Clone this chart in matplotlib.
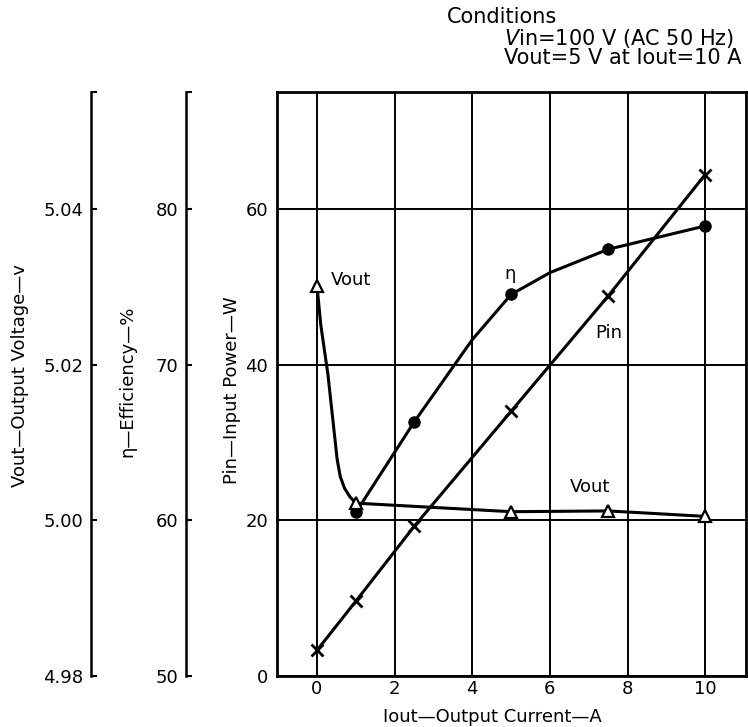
import matplotlib
matplotlib.use('Agg')
from matplotlib import pyplot as plt

plt.rcParams['font.family'] = ['DejaVu Sans']

# measured points
iout_a = [0, 1, 2.5, 5, 7.5, 10]
pin_w = [3.3, 9.6, 19.2, 34.0, 48.8, 64.4]

eff_x = [1, 2.5, 5, 7.5, 10]
eff_pct = [60.5, 66.3, 74.5, 77.4, 78.9]

vout_x = [0, 1, 5, 7.5, 10]
vout_v = [5.0301, 5.0022, 5.0011, 5.0012, 5.0005]

# curve shapes
eff_curve_x = [1, 2.5, 4, 5, 6, 7.5, 10]
eff_curve = [60.5, 66.3, 71.6, 74.5, 75.9, 77.4, 78.9]

vout_curve_x = [0, 0.1, 0.28, 0.45, 0.52, 0.6, 0.71, 0.85, 1, 5, 7.5, 10]
vout_curve = [5.0301, 5.0250, 5.0188, 5.0110, 5.0078, 5.0056, 5.0041,
              5.0030, 5.0022, 5.0011, 5.0012, 5.0005]

W, H = 748, 727
fig = plt.figure(figsize=(W / 100, H / 100), dpi=100)
ax = fig.add_axes([277 / W, (H - 676) / H, (746 - 277) / W, (676 - 92) / H])

ax.set_xlim(-1.03, 11.05)
ax.set_ylim(0, 75)
ax.set_xticks([0, 2, 4, 6, 8, 10])
ax.set_yticks([0, 20, 40, 60])
ax.grid(True, color='black', linewidth=1.4)
ax.tick_params(length=0, labelsize=13)
ax.tick_params(axis='y', pad=6.5)
ax.tick_params(axis='x', pad=3)
for s in ax.spines.values():
    s.set_linewidth(2)
ax.set_xlabel('Iout—Output Current—A', fontsize=13)
ax.xaxis.set_label_coords(0.46, -0.055)
ax.set_ylabel('Pin—Input Power—W', fontsize=13)
ax.yaxis.set_label_coords(-0.077, 0.49)

# extra left axes for efficiency and output voltage
def side_axis(px_out, lim, ticks, labels, label, label_x, label_y):
    a = ax.twinx()
    for name in ['right', 'top', 'bottom']:
        a.spines[name].set_visible(False)
    a.spines['left'].set_visible(True)
    a.spines['left'].set_position(('outward', px_out * 72 / 100))
    a.spines['left'].set_linewidth(1.8)
    a.yaxis.set_ticks_position('left')
    a.yaxis.set_label_position('left')
    a.set_ylim(*lim)
    a.set_yticks(ticks)
    a.set_yticklabels(labels)
    a.tick_params(axis='y', direction='in', length=4, width=1.5, pad=5.5, labelsize=13)
    a.set_ylabel(label, fontsize=13)
    a.yaxis.set_label_coords(label_x, label_y)
    return a

ax_eff = side_axis(91, (50, 87.5), [50, 60, 70, 80, 87.5],
                   ['50', '60', '70', '80', ''], 'η—Efficiency—%', -0.30, 0.505)
ax_v = side_axis(186, (4.98, 5.055), [4.98, 5.00, 5.02, 5.04, 5.055],
                 ['4.98', '5.00', '5.02', '5.04', ''], 'Vout—Output Voltage—v', -0.529, 0.515)

# Pin
ax.plot(iout_a, pin_w, color='black', linewidth=2.2, marker='x',
        markersize=9, markeredgewidth=2, zorder=3)

# efficiency
ax_eff.plot(eff_curve_x, eff_curve, color='black', linewidth=2.2)
ax_eff.plot(eff_x, eff_pct, linestyle='none', marker='o', color='black', markersize=8)

# output voltage
ax_v.plot(vout_curve_x, vout_curve, color='black', linewidth=2.2)
ax_v.plot(vout_x, vout_v, linestyle='none', marker='^', markersize=9,
          markerfacecolor='white', markeredgecolor='black', markeredgewidth=1.6)

# curve labels
ax.text(0.36, 50.9, 'Vout', fontsize=13, ha='left', va='center')
ax.text(4.97, 51.6, 'η', fontsize=13, ha='center', va='center')
ax.text(7.51, 44.1, 'Pin', fontsize=13, ha='center', va='center')
ax.text(7.03, 24.3, 'Vout', fontsize=13, ha='center', va='center')

# conditions
fig.text(447 / W, 1 - 17 / H, 'Conditions', fontsize=15, ha='left', va='center')
fig.text(504 / W, 1 - 38 / H, r'$V$in=100 V (AC 50 Hz)', fontsize=15, ha='left', va='center')
fig.text(504 / W, 1 - 58 / H, 'Vout=5 V at Iout=10 A', fontsize=15, ha='left', va='center')

fig.savefig('out.png', dpi=100)
